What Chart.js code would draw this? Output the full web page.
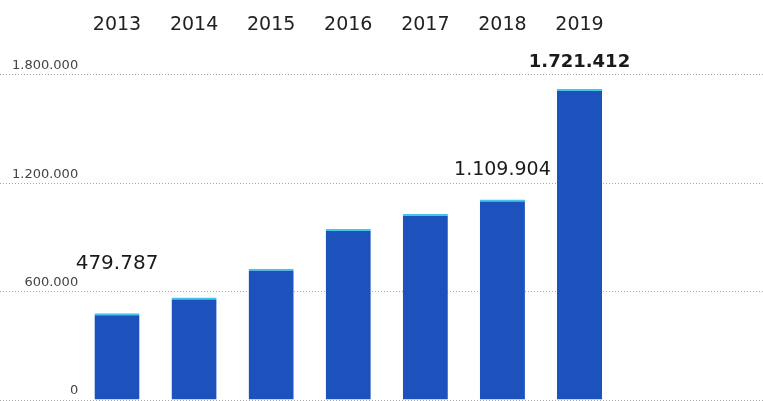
<!DOCTYPE html>
<html>
<head>
<meta charset="utf-8">
<script src="https://cdn.jsdelivr.net/npm/chart.js@4"></script>
<style>
  html, body { margin: 0; padding: 0; background: #fff; }
  #wrap { width: 763px; height: 401px; }
</style>
</head>
<body>
<div id="wrap"><canvas id="chart"></canvas></div>
<script>
const years = [2013, 2014, 2015, 2016, 2017, 2018, 2019];
const values = [479787, 567000, 727000, 946000, 1029000, 1109904, 1721412];
const yTicks = [0, 600000, 1200000, 1800000];
const labelledYears = [2013, 2018, 2019];

// dots as thousands separator, like the print original
function fmt(n) {
    return String(n).replace(/\B(?=(\d{3})+(?!\d))/g, ".");
}

// value labels above a few bars
const labelStyle = {
    2013: { font: "400 20px 'DejaVu Sans'", lift: 50 },
    2018: { font: "400 19px 'DejaVu Sans'", lift: 29 },
    2019: { font: "700 18px 'DejaVu Sans'", lift: 27 }
};

const barLabels = {
    id: "barLabels",
    afterDatasetsDraw(chart) {
        const ctx = chart.ctx;
        const meta = chart.getDatasetMeta(0);
        ctx.save();
        ctx.fillStyle = "#1a1a1a";
        ctx.textAlign = "center";
        ctx.textBaseline = "middle";
        meta.data.forEach((bar, i) => {
            const yr = years[i];
            if (!labelledYears.includes(yr)) return;
            const st = labelStyle[yr];
            ctx.font = st.font;
            ctx.fillText(fmt(values[i]), bar.x, bar.y - st.lift);
        });
        ctx.restore();
    }
};

new Chart(document.getElementById("chart"), {
    type: "bar",
    data: {
        datasets: [{
            data: years.map((y, i) => ({ x: y, y: values[i] })),
            backgroundColor: "#1d52bd",
            borderColor: "#42c6ee",
            borderWidth: { top: 2, left: 0, right: 0, bottom: 0 },
            borderSkipped: "bottom",
            categoryPercentage: 1,
            barPercentage: 0.585
        }]
    },
    options: {
        responsive: true,
        maintainAspectRatio: false,
        animation: false,
        layout: { padding: 0 },
        plugins: {
            legend: { display: false },
            tooltip: { enabled: false }
        },
        scales: {
            x: {
                type: "linear",
                position: "top",
                offset: false,
                min: 2011.482,
                max: 2021.381,
                afterFit: (s) => {
                    s.height = 45;
                    s.paddingLeft = 0;
                    s.paddingRight = 0;
                },
                // one tick per year shown in the chart
                afterBuildTicks: (s) => { s.ticks = years.map(v => ({ value: v })); },
                grid: { display: false, drawTicks: false },
                border: { display: false },
                ticks: {
                    autoSkip: false,
                    maxRotation: 0,
                    padding: 9,
                    color: "#222",
                    font: { family: "'DejaVu Sans'", size: 19 },
                    callback: (v) => String(Math.round(v))
                }
            },
            y: {
                min: -5500,
                max: 1965000,
                afterFit: (s) => {
                    s.width = 0;
                    s.paddingTop = 0;
                    s.paddingBottom = 0;
                },
                afterBuildTicks: (s) => { s.ticks = yTicks.map(v => ({ value: v })); },
                grid: {
                    color: "#a8a8a8",
                    lineWidth: 1,
                    drawTicks: false
                },
                border: { display: false, dash: [1, 2] },
                ticks: {
                    mirror: true,
                    crossAlign: "far",
                    padding: 12,
                    labelOffset: -9,
                    color: "#444",
                    font: { family: "'DejaVu Sans'", size: 13 },
                    callback: (v) => fmt(v)
                }
            }
        }
    },
    plugins: [barLabels]
});
</script>
</body>
</html>
